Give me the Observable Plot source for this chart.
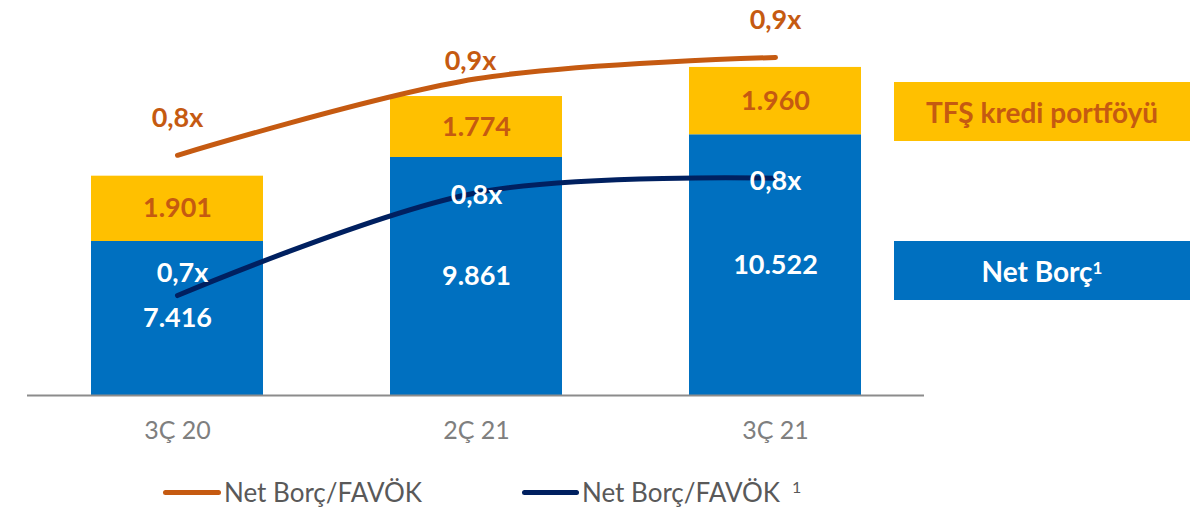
<!DOCTYPE html>
<html><head><meta charset="utf-8">
<script src="https://cdn.jsdelivr.net/npm/d3@7"></script>
<script src="https://cdn.jsdelivr.net/npm/@observablehq/plot@0.6"></script>
<style>
body{margin:0;background:#fff;font-family:Lato,"Open Sans",sans-serif;}
#wrap{position:relative;width:1203px;height:465px;}
#wrap svg{position:absolute;left:0;top:0;overflow:visible;}
.box{position:absolute;left:894px;width:296px;height:59px;display:flex;align-items:center;justify-content:center;font-weight:bold;font-size:28px;}
.box sup{font-size:17px;position:relative;top:-3px;}
#legend{position:relative;width:1203px;height:46px;}
.sw{position:absolute;top:25px;height:5px;border-radius:3px;}
.lt{position:absolute;top:10px;font-size:26px;color:#595959;line-height:34px;white-space:nowrap;}
.lt span{font-size:16px;position:relative;top:-9px;margin-left:12px;}
</style></head><body>
<div id="wrap"></div>
<div id="legend"></div>
<script>
// ---- data ----
const periods = ["3Ç 20", "2Ç 21", "3Ç 21"];
const netDebt = [7416, 9861, 10522];            // Net Borç¹
const tfsPortfolio = [1901, 1774, 1960];        // TFŞ kredi portföyü
const ratioReported = [0.83, 0.92, 0.945];      // Net Borç/FAVÖK
const ratioAdjusted = [0.665, 0.786, 0.803];    // Net Borç/FAVÖK ¹
const seriesNames = ["Net Borç¹", "TFŞ kredi portföyü"];
const lineNames = ["Net Borç/FAVÖK", "Net Borç/FAVÖK ¹"];

// ---- derived tables ----
const fmtInt = d3.format(",d");
const trNum = v => fmtInt(v).replace(/,/g, ".");
const trRatio = v => v.toFixed(1).replace(".", ",") + "x";

const stackRows = [];
periods.forEach((p, i) => {
  stackRows.push({period: p, series: seriesNames[0], value: netDebt[i]});
  stackRows.push({period: p, series: seriesNames[1], value: tfsPortfolio[i]});
});
const barInfo = periods.map((p, i) => ({period: p, net: netDebt[i], tfs: tfsPortfolio[i]}));
const lineRows = periods.map((p, i) => ({period: p, rep: ratioReported[i], adj: ratioAdjusted[i], i}));

// ---- layout ----
const W = 1203, H = 465;
const Y0 = 2934, Y1 = 14430;        // bar value axis (starts above zero, as in original)
const R0 = 0.5474, R1 = 1.0121;     // ratio axis
const xScale = {type: "band", domain: periods, range: [0, 951], paddingInner: 0.426, paddingOuter: 0.3005, axis: null};
const common = {width: W, height: H, marginTop: 0, marginBottom: 70, marginLeft: 27, marginRight: 279,
  style: {fontFamily: "Lato, 'Open Sans', sans-serif", background: "transparent"}};

const bars = Plot.plot({
  ...common,
  x: xScale,
  y: {domain: [Y0, Y1], range: [395, 0], clamp: true, axis: null},
  color: {domain: seriesNames, range: ["#0070c0", "#ffc000"]},
  marks: [
    Plot.barY(stackRows, {x: "period", y: "value", fill: "series"}),
    Plot.ruleY([Y0], {stroke: "#8c8c8c", strokeWidth: 2}),
    Plot.text(barInfo, {x: "period", y: d => (Y0 + d.net) / 2, text: d => trNum(d.net),
      fill: "white", fontWeight: "bold", fontSize: 27}),
    Plot.text(barInfo, {x: "period", y: d => d.net + d.tfs / 2, text: d => trNum(d.tfs),
      fill: "#c55a11", fontWeight: "bold", fontSize: 27}),
    Plot.text(periods, {x: d => d, frameAnchor: "bottom", dy: 43, text: d => d,
      fill: "#7f7f7f", fontSize: 25})
  ]
});

const lines = Plot.plot({
  ...common,
  x: xScale,
  y: {domain: [R0, R1], range: [395, 0], axis: null},
  marks: [
    Plot.line(lineRows, {x: "period", y: "rep", stroke: "#c55a11", strokeWidth: 5, curve: "catmull-rom", strokeLinecap: "round"}),
    Plot.line(lineRows, {x: "period", y: "adj", stroke: "#002060", strokeWidth: 5, curve: "catmull-rom", strokeLinecap: "round"}),
    Plot.text(lineRows.filter(d => d.i !== 1), {x: "period", y: "rep", text: d => trRatio(d.rep), dy: -37,
      fill: "#c55a11", fontWeight: "bold", fontSize: 27}),
    Plot.text(lineRows.filter(d => d.i === 1), {x: "period", y: "rep", text: d => trRatio(d.rep), dy: -17, dx: -6,
      fill: "#c55a11", fontWeight: "bold", fontSize: 27}),
    Plot.text(lineRows.filter(d => d.i === 0), {x: "period", y: "adj", text: d => trRatio(d.adj), dy: -22, dx: 5,
      fill: "white", fontWeight: "bold", fontSize: 27}),
    Plot.text(lineRows.filter(d => d.i > 0), {x: "period", y: "adj", text: d => trRatio(d.adj), dy: 3,
      fill: "white", fontWeight: "bold", fontSize: 27})
  ]
});

const wrap = document.getElementById("wrap");
wrap.appendChild(bars);
wrap.appendChild(lines);

// series boxes (legend for the bars)
const b1 = document.createElement("div");
b1.className = "box"; b1.style.top = "82px"; b1.style.background = "#ffc000"; b1.style.color = "#c55a11";
b1.textContent = seriesNames[1];
const b2 = document.createElement("div");
b2.className = "box"; b2.style.top = "241px"; b2.style.background = "#0070c0"; b2.style.color = "white";
b2.innerHTML = "Net Borç<sup>1</sup>";
wrap.appendChild(b1); wrap.appendChild(b2);

// bottom legend for the lines
const lg = document.getElementById("legend");
lg.innerHTML =
  `<div class="sw" style="left:163px;width:58px;background:#c55a11"></div>` +
  `<div class="lt" style="left:224px">${lineNames[0]}</div>` +
  `<div class="sw" style="left:522px;width:57px;background:#002060"></div>` +
  `<div class="lt" style="left:582px">Net Borç/FAVÖK<span>1</span></div>`;
</script>
</body></html>
